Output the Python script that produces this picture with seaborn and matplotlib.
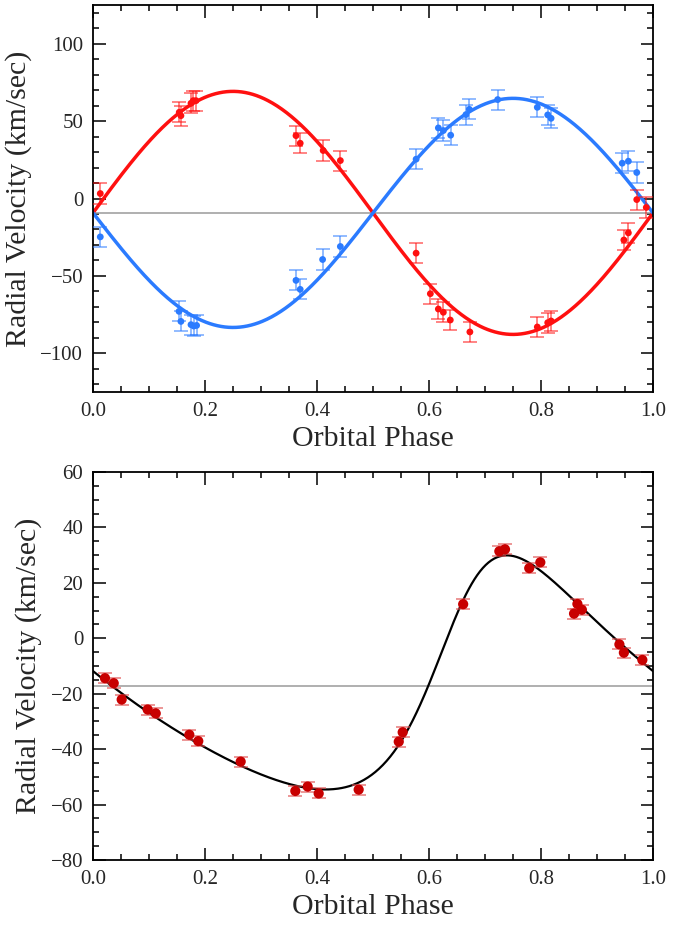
import numpy as np
import pandas as pd
import matplotlib
matplotlib.use("Agg")
import matplotlib.pyplot as plt
import seaborn as sns
from matplotlib.ticker import MultipleLocator, FormatStrFormatter

# ---------------- data: top panel (double-lined binary) ----------------
red_phase = [0.013, 0.154, 0.157, 0.175, 0.179, 0.184, 0.3625, 0.370, 0.411, 0.4417,
             0.577, 0.6024, 0.6167, 0.6256, 0.638, 0.673, 0.7934, 0.812, 0.818,
             0.948, 0.956, 0.971, 0.988]
red_vel = [3.2, 55.7, 53.5, 61.5, 63.2, 63.2, 40.6, 35.7, 31.0, 24.5,
           -35.3, -61.5, -71.4, -73.5, -78.5, -86.2, -83.0, -80.2, -79.1,
           -26.8, -22.2, -0.7, -5.8]
blue_phase = [0.013, 0.1536, 0.157, 0.175, 0.180, 0.185, 0.3625, 0.370, 0.410, 0.4417,
              0.577, 0.6167, 0.6256, 0.6387, 0.666, 0.672, 0.7226, 0.7934, 0.812, 0.818,
              0.945, 0.956, 0.971]
blue_vel = [-24.8, -72.9, -79.4, -81.5, -82.4, -82.0, -52.9, -58.7, -39.4, -31.0,
            25.4, 45.6, 43.9, 40.9, 54.2, 57.6, 63.9, 58.9, 54.0, 51.8,
            22.8, 24.1, 16.8]
top_err = 6.5
# circular-orbit solution (systemic velocity, semi-amplitudes)
gamma_top = -9.3
K_red = 78.5
K_blue = 74.0

# ---------------- data: bottom panel (single-lined, eccentric) ----------------
sb_phase = [0.0214, 0.037, 0.0512, 0.0976, 0.112, 0.172, 0.188, 0.2637, 0.3613, 0.3833,
            0.403, 0.4744, 0.546, 0.553, 0.661, 0.7256, 0.7357, 0.779, 0.7988, 0.859,
            0.865, 0.873, 0.940, 0.948, 0.981]
sb_vel = [-14.4, -16.2, -22.1, -25.7, -27.1, -34.8, -37.1, -44.5, -55.1, -53.5,
          -56.0, -54.6, -37.3, -33.9, 12.3, 31.4, 32.1, 25.3, 27.4, 8.9,
          12.4, 10.3, -2.2, -5.2, -7.8]
sb_err = 1.8
gamma_line_bot = -17.2
# eccentric orbit elements for the model curve
ecc = 0.32
omega_deg = 300.0
t_peri = 0.65
K_sb = 42.24
gamma_sb = -19.07


def kepler_true_anomaly(ph, t0, e):
    M = 2 * np.pi * (np.asarray(ph) - t0)
    E = M.copy()
    for _ in range(40):
        E = E - (E - e * np.sin(E) - M) / (1 - e * np.cos(E))
    return 2 * np.arctan2(np.sqrt(1 + e) * np.sin(E / 2), np.sqrt(1 - e) * np.cos(E / 2))


serif = ["Liberation Serif", "DejaVu Serif"]
sns.set_theme(style="ticks")
plt.rcParams["font.family"] = serif

fig = plt.figure(figsize=(6.93, 9.26), dpi=100)
ax1 = fig.add_axes([93 / 693, 1 - 392 / 926, 560 / 693, 387 / 926])
ax2 = fig.add_axes([93 / 693, 1 - 860 / 926, 560 / 693, 388 / 926])

RED = "#ff1010"
BLUE = "#2b7bff"
phase_grid = np.linspace(0, 1, 600)
curve_top = pd.DataFrame({
    "phase": np.concatenate([phase_grid, phase_grid]),
    "vel": np.concatenate([gamma_top + K_red * np.sin(2 * np.pi * phase_grid),
                           gamma_top - K_blue * np.sin(2 * np.pi * phase_grid)]),
    "star": ["red"] * len(phase_grid) + ["blue"] * len(phase_grid),
})

ax1.axhline(gamma_top, color="#9a9a9a", lw=1.1, zorder=1)
sns.lineplot(data=curve_top, x="phase", y="vel", hue="star",
             palette={"red": RED, "blue": BLUE}, lw=2.5, legend=False, ax=ax1, zorder=2)
for phs, vel, col in [(red_phase, red_vel, RED), (blue_phase, blue_vel, BLUE)]:
    ax1.errorbar(phs, vel, yerr=top_err, fmt="none", ecolor=col, alpha=0.6,
                 elinewidth=1.2, capsize=5, capthick=1.2, zorder=3)
    sns.scatterplot(x=phs, y=vel, color=col, s=24, edgecolor="none", ax=ax1, zorder=4)

ax1.set_xlim(0, 1)
ax1.set_ylim(-125, 125)
ax1.yaxis.set_major_locator(MultipleLocator(50))
ax1.yaxis.set_minor_locator(MultipleLocator(10))

# bottom
nu_c = kepler_true_anomaly(phase_grid, t_peri, ecc)
w = np.deg2rad(omega_deg)
curve_bot = gamma_sb + K_sb * (np.cos(nu_c + w) + ecc * np.cos(w))
ax2.axhline(gamma_line_bot, color="#9a9a9a", lw=1.1, zorder=1)
sns.lineplot(x=phase_grid, y=curve_bot, color="black", lw=1.6, ax=ax2, zorder=2)
ax2.errorbar(sb_phase, sb_vel, yerr=sb_err, fmt="none", ecolor="#e05050", alpha=0.7,
             elinewidth=1.2, capsize=5, capthick=1.2, zorder=3)
sns.scatterplot(x=sb_phase, y=sb_vel, color="#c80000", s=54, edgecolor="none", ax=ax2, zorder=4)
ax2.set_xlim(0, 1)
ax2.set_ylim(-80, 60)
ax2.yaxis.set_major_locator(MultipleLocator(20))
ax2.yaxis.set_minor_locator(MultipleLocator(5))

for ax in (ax1, ax2):
    ax.xaxis.set_major_locator(MultipleLocator(0.2))
    ax.xaxis.set_minor_locator(MultipleLocator(0.05))
    ax.xaxis.set_major_formatter(FormatStrFormatter("%.1f"))
    ax.tick_params(which="both", direction="in", top=True, right=True, width=1.1,
                   color="black", labelsize=15, pad=7)
    ax.tick_params(which="major", length=9)
    ax.tick_params(which="minor", length=4.5)
    for s in ax.spines.values():
        s.set_linewidth(1.3)
        s.set_color("black")
    ax.set_xlabel("Orbital Phase", fontsize=21.5, labelpad=4)
    ax.set_ylabel("Radial Velocity (km/sec)", fontsize=21.5, labelpad=6)

fig.savefig("out.png", dpi=100)
